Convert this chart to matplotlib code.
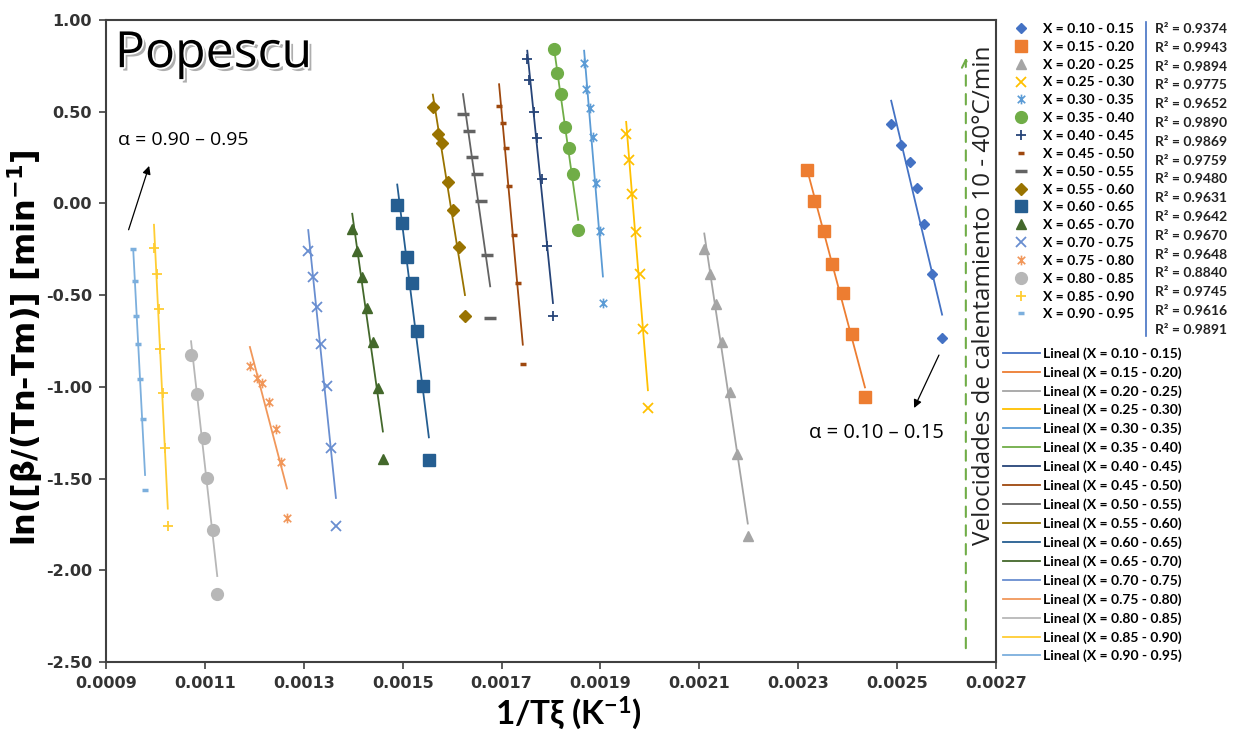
import numpy as np
import matplotlib
matplotlib.use("Agg")
import matplotlib.pyplot as plt
import matplotlib.patheffects as pe
from matplotlib.lines import Line2D
from matplotlib.path import Path
from matplotlib.ticker import FormatStrFormatter

plt.rcParams["mathtext.default"] = "regular"

# Conversion ranges (X) and fitted R^2 for each Popescu line
ranges = ["0.10 - 0.15", "0.15 - 0.20", "0.20 - 0.25", "0.25 - 0.30", "0.30 - 0.35",
          "0.35 - 0.40", "0.40 - 0.45", "0.45 - 0.50", "0.50 - 0.55", "0.55 - 0.60",
          "0.60 - 0.65", "0.65 - 0.70", "0.70 - 0.75", "0.75 - 0.80", "0.80 - 0.85",
          "0.85 - 0.90", "0.90 - 0.95"]
r2 = ["0.9374", "0.9943", "0.9894", "0.9775", "0.9652", "0.9890", "0.9869", "0.9759",
      "0.9480", "0.9631", "0.9642", "0.9670", "0.9648", "0.8840", "0.9745", "0.9616",
      "0.9891"]

# 1/T (K^-1) and ln(beta/(Tn-Tm)) per range
x_10 = [0.002488, 0.002508, 0.002526, 0.002540, 0.002554, 0.002571, 0.002591]
y_10 = [0.432, 0.318, 0.225, 0.083, -0.114, -0.387, -0.736]
x_15 = [0.002318, 0.002332, 0.002352, 0.002368, 0.002391, 0.002409, 0.002435]
y_15 = [0.181, 0.012, -0.152, -0.332, -0.491, -0.714, -1.058]
x_20 = [0.002110, 0.002122, 0.002134, 0.002146, 0.002162, 0.002176, 0.002198]
y_20 = [-0.250, -0.387, -0.551, -0.753, -1.026, -1.364, -1.812]
x_25 = [0.001952, 0.001958, 0.001964, 0.001972, 0.001980, 0.001986, 0.001996]
y_25 = [0.378, 0.236, 0.050, -0.158, -0.387, -0.682, -1.113]
x_30 = [0.001867, 0.001871, 0.001879, 0.001885, 0.001891, 0.001899, 0.001905]
y_30 = [0.765, 0.623, 0.520, 0.361, 0.110, -0.152, -0.545]
x_35 = [0.001806, 0.001812, 0.001820, 0.001828, 0.001836, 0.001845, 0.001855]
y_35 = [0.842, 0.711, 0.596, 0.416, 0.301, 0.159, -0.147]
x_40 = [0.001752, 0.001756, 0.001766, 0.001772, 0.001782, 0.001792, 0.001804]
y_40 = [0.787, 0.672, 0.498, 0.356, 0.132, -0.234, -0.616]
x_45 = [0.001695, 0.001703, 0.001709, 0.001715, 0.001725, 0.001733, 0.001743]
y_45 = [0.530, 0.438, 0.301, 0.094, -0.174, -0.436, -0.878]
x_50 = [0.001622, 0.001634, 0.001640, 0.001650, 0.001658, 0.001671, 0.001677]
y_50 = [0.487, 0.394, 0.252, 0.159, 0.012, -0.283, -0.622]
x_55 = [0.001561, 0.001572, 0.001580, 0.001592, 0.001602, 0.001614, 0.001626]
y_55 = [0.525, 0.378, 0.328, 0.115, -0.037, -0.239, -0.616]
x_60 = [0.001489, 0.001499, 0.001509, 0.001519, 0.001529, 0.001541, 0.001553]
y_60 = [-0.010, -0.108, -0.294, -0.436, -0.693, -0.993, -1.397]
x_65 = [0.001398, 0.001408, 0.001418, 0.001428, 0.001440, 0.001450, 0.001460]
y_65 = [-0.141, -0.261, -0.403, -0.572, -0.758, -1.004, -1.391]
x_70 = [0.001309, 0.001319, 0.001327, 0.001335, 0.001347, 0.001355, 0.001365]
y_70 = [-0.261, -0.403, -0.562, -0.769, -0.993, -1.331, -1.757]
x_75 = [0.001191, 0.001205, 0.001216, 0.001230, 0.001244, 0.001254, 0.001266]
y_75 = [-0.889, -0.949, -0.977, -1.080, -1.228, -1.408, -1.714]
x_80 = [0.001072, 0.001084, 0.001098, 0.001104, 0.001116, 0.001125]
y_80 = [-0.824, -1.037, -1.277, -1.495, -1.779, -2.129]
x_85 = [0.000997, 0.001003, 0.001007, 0.001009, 0.001015, 0.001019, 0.001025]
y_85 = [-0.245, -0.387, -0.578, -0.791, -1.031, -1.331, -1.757]
x_90 = [0.000955, 0.000959, 0.000961, 0.000965, 0.000969, 0.000975, 0.000979]
y_90 = [-0.250, -0.425, -0.611, -0.769, -0.955, -1.173, -1.561]

series = [(x_10, y_10), (x_15, y_15), (x_20, y_20), (x_25, y_25), (x_30, y_30),
          (x_35, y_35), (x_40, y_40), (x_45, y_45), (x_50, y_50), (x_55, y_55),
          (x_60, y_60), (x_65, y_65), (x_70, y_70), (x_75, y_75), (x_80, y_80),
          (x_85, y_85), (x_90, y_90)]

colors = ["#4472C4", "#ED7D31", "#A5A5A5", "#FFC000", "#5B9BD5", "#70AD47",
          "#264478", "#9E480E", "#636363", "#997300", "#255E91", "#43682B",
          "#698ED0", "#F1975A", "#B7B7B7", "#FFCD33", "#7CAFDD"]

# Excel-style asterisk: an x with a vertical bar through it
asterisk = Path([(-1, -1), (1, 1), (-1, 1), (1, -1), (0, -1.3), (0, 1.3)],
                [Path.MOVETO, Path.LINETO, Path.MOVETO, Path.LINETO, Path.MOVETO, Path.LINETO])

markers = ["D", "s", "^", "x", asterisk, "o", "+", "_", "_",
           "D", "s", "^", "x", asterisk, "o", "+", "_"]
msizes = [5.5, 8, 7, 7, 7, 8.5, 7, 5, 9, 6.5, 8.5, 7.5, 7, 7, 8.5, 7, 5]
mews = [1, 1, 1, 1.3, 1.2, 1, 1.3, 2.5, 2.5, 1, 1, 1, 1.3, 1.2, 1, 1.3, 2.5]

fig = plt.figure(figsize=(12.34, 7.38), dpi=100)
ax = fig.add_axes([106 / 1234, 1 - 662 / 738, 890 / 1234, 642 / 738])

point_handles, line_handles = [], []
for i, (xs, ys) in enumerate(series):
    xs, ys = np.array(xs), np.array(ys)
    pts, = ax.plot(xs, ys, ls="none", marker=markers[i], ms=msizes[i], mew=mews[i],
                   color=colors[i], label=f"X = {ranges[i]}", zorder=3)
    coef = np.polyfit(xs, ys, 1)
    xf = np.array([xs.min(), xs.max()])
    fit, = ax.plot(xf, np.polyval(coef, xf), color=colors[i], lw=1.3,
                   label=f"Lineal (X = {ranges[i]})", zorder=4)
    point_handles.append(pts)
    line_handles.append(fit)

ax.set_xlim(0.0009, 0.0027)
ax.set_ylim(-2.5, 1.0)
ax.set_xticks(np.arange(0.0009, 0.00271, 0.0002))
ax.set_yticks(np.arange(-2.5, 1.01, 0.5))
ax.xaxis.set_major_formatter(FormatStrFormatter("%.4f"))
ax.yaxis.set_major_formatter(FormatStrFormatter("%.2f"))
for s in ax.spines.values():
    s.set_color("#404040")
    s.set_linewidth(1.5)
ax.tick_params(length=5, width=1.2, color="#404040", labelcolor="#333333", pad=5)
for lab in ax.get_xticklabels() + ax.get_yticklabels():
    lab.set_fontweight("bold")
    lab.set_fontsize(11.5)
    lab.set_family("DejaVu Sans")

ax.set_xlabel("1/Tξ (K$^{-1}$)", family="Lato", fontweight="bold", fontsize=24)
ax.xaxis.set_label_coords(462 / 890, -0.05)
ax.set_ylabel("ln([β/(Tn-Tm)] [min$^{-1}$]", family="DejaVu Sans", fontweight="bold",
              fontsize=23)
ax.yaxis.set_label_coords(-0.068, 0.49)

ax.text(0.01, 0.985, "Popescu", transform=ax.transAxes, va="top", ha="left",
        family="Open Sans", fontsize=36, color="black",
        path_effects=[pe.SimplePatchShadow(offset=(2.5, -2.5), shadow_rgbFace="#8c8c8c", alpha=0.7),
                      pe.Stroke(linewidth=2.5, foreground="white"), pe.Normal()])

# range markers at both ends of the sequence
ax.annotate("", xy=(0.000989, 0.219), xytext=(0.000944, -0.158),
            arrowprops=dict(arrowstyle="-|>", color="black", lw=0.9, mutation_scale=12))
ax.text(0.000924, 0.345, "α = 0.90 – 0.95", family="Open Sans", fontsize=14,
        va="center", ha="left")
ax.annotate("", xy=(0.002532, -1.129), xytext=(0.002587, -0.813),
            arrowprops=dict(arrowstyle="-|>", color="black", lw=0.9, mutation_scale=12))
ax.text(0.002459, -1.25, "α = 0.10 – 0.15", family="Open Sans", fontsize=14.5,
        va="center", ha="center")

# heating-rate direction
ax.annotate("", xy=(0.002639, 0.81), xytext=(0.002639, -2.44),
            arrowprops=dict(arrowstyle="->", color="#70AD47", lw=1.5, ls=(0, (5, 4)),
                            mutation_scale=14))
ax.text(0.002676, -0.50, "Velocidades de calentamiento 10 - 40°C/min", rotation=90,
        family="Open Sans", fontsize=17.5, va="center", ha="center", color="#222222")

legend_font = dict(family="Lato", weight="bold", size=10)
fig.legend(handles=point_handles, loc="upper left",
           bbox_to_anchor=(1003 / 1234, 1 - 23 / 738), frameon=False,
           handlelength=2.65, handletextpad=0.25, labelspacing=0.42,
           borderpad=0, borderaxespad=0, prop=legend_font)
fig.legend(handles=line_handles, loc="upper left",
           bbox_to_anchor=(1003 / 1234, 1 - 347 / 738), frameon=False,
           handlelength=2.65, handletextpad=0.25, labelspacing=0.45,
           borderpad=0, borderaxespad=0, prop=legend_font)

for i, val in enumerate(r2):
    fig.text(1155 / 1234, 1 - (29 + i * 18.8) / 738, f"R² = {val}", family="Lato",
             fontweight="bold", fontsize=10, va="center", ha="left", color="#222222")
fig.add_artist(Line2D([1146 / 1234, 1146 / 1234], [1 - 22 / 738, 1 - 336 / 738],
                      color="#4472C4", lw=1.2))

fig.savefig("out.png", dpi=100, facecolor="white")
